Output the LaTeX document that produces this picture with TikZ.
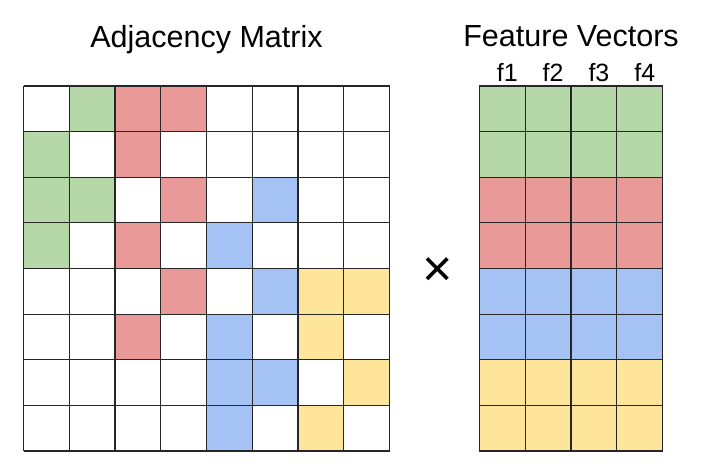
\documentclass[tikz,border=0pt]{standalone}
\usepackage{fontspec}
\setmainfont{Liberation Sans}
\definecolor{cW}{HTML}{FFFFFF}
\definecolor{cG}{HTML}{B6D7A8}
\definecolor{cR}{HTML}{EA9999}
\definecolor{cB}{HTML}{A4C2F4}
\definecolor{cY}{HTML}{FFE599}
\tikzset{
  title/.style={anchor=base, inner sep=0pt, font=\fontsize{30.5}{33}\selectfont},
  flabel/.style={anchor=base, inner sep=0pt, font=\fontsize{25}{28}\selectfont},
  gridline/.style={draw=black!85, line width=1.1pt},
}
\begin{document}
\begin{tikzpicture}[x=1pt,y=-1pt]
\useasboundingbox (0,0) rectangle (706,472);
% adjacency matrix
\def\ax{23.5}\def\ay{86}\def\aw{45.75}\def\ah{45.625}
\foreach \row [count=\r from 0] in {
  {cW,cG,cR,cR,cW,cW,cW,cW},
  {cG,cW,cR,cW,cW,cW,cW,cW},
  {cG,cG,cW,cR,cW,cB,cW,cW},
  {cG,cW,cR,cW,cB,cW,cW,cW},
  {cW,cW,cW,cR,cW,cB,cY,cY},
  {cW,cW,cR,cW,cB,cW,cY,cW},
  {cW,cW,cW,cW,cB,cB,cW,cY},
  {cW,cW,cW,cW,cB,cW,cY,cW}} {
  \foreach \c [count=\i from 0] in \row {
    \fill[\c] (\ax+\i*\aw, \ay+\r*\ah) rectangle ++(\aw,\ah);
  }
}
\foreach \k in {0,...,8} {
  \draw[gridline] (\ax+\k*\aw, \ay) -- (\ax+\k*\aw, \ay+8*\ah);
  \draw[gridline] (\ax, \ay+\k*\ah) -- (\ax+8*\aw, \ay+\k*\ah);
}
% feature vectors
\def\fx{479.3}\def\fw{45.85}
\foreach \c [count=\r from 0] in {cG,cG,cR,cR,cB,cB,cY,cY} {
  \fill[\c] (\fx, \ay+\r*\ah) rectangle ++(4*\fw,\ah);
}
\foreach \k in {0,...,8} {
  \draw[gridline] (\fx, \ay+\k*\ah) -- (\fx+4*\fw, \ay+\k*\ah);
}
\foreach \k in {0,...,4} {
  \draw[gridline] (\fx+\k*\fw, \ay) -- (\fx+\k*\fw, \ay+8*\ah);
}
% labels
\node[title] (adjtitle) at (206.5,47) {Adjacency Matrix};
\node[title] (feattitle) at (571,46) {Feature Vectors};
\foreach \k in {1,...,4} {
  \node[flabel] (f\k) at (\fx+\k*\fw-\fw/2+5, 81) {f\k};
}
\node[font=\fontsize{52}{52}\selectfont, inner sep=0pt] (times) at (438,272) {×};
\end{tikzpicture}
\end{document}
